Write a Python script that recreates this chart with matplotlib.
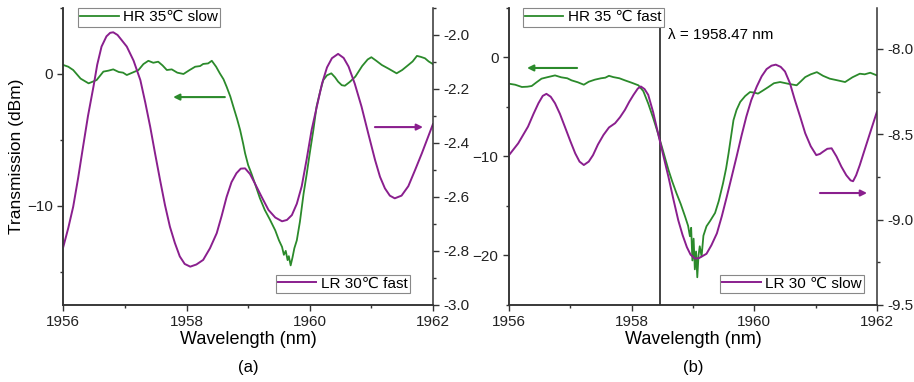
"""
Two-panel transmission spectra: HR / LR fibre gratings, slow vs fast light.
"""

import matplotlib
matplotlib.use('Agg')
import matplotlib.pyplot as plt
from matplotlib.ticker import MultipleLocator

plt.rcParams.update({
    'font.family': ['Liberation Sans', 'DejaVu Sans'],
    'font.size': 10,
    'axes.linewidth': 1.1,
    'axes.edgecolor': '#333333',
    'xtick.direction': 'out',
    'ytick.direction': 'out',
    'xtick.major.size': 4,
    'ytick.major.size': 4,
    'xtick.minor.size': 2.5,
    'ytick.minor.size': 2.5,
    'xtick.color': '#333333',
    'ytick.color': '#333333',
    'xtick.labelcolor': '#222222',
    'ytick.labelcolor': '#222222',
})

GREEN = '#2b8a2b'
PURPLE = '#8a1f8e'

# ---- panel (a): HR 35C slow (left axis, dBm) ----
hr_slow_wl = [
    1956.00, 1956.08, 1956.16, 1956.28, 1956.41, 1956.54, 1956.65, 1956.73, 1956.81, 1956.90,
    1956.97, 1957.03, 1957.12, 1957.22, 1957.30, 1957.38, 1957.46, 1957.54, 1957.61, 1957.68,
    1957.76, 1957.85, 1957.95, 1958.05, 1958.14, 1958.22, 1958.27, 1958.35, 1958.41, 1958.48,
    1958.54, 1958.60, 1958.65, 1958.71, 1958.76, 1958.82, 1958.87, 1958.92, 1958.95, 1959.00,
    1959.05, 1959.11, 1959.19, 1959.27, 1959.35, 1959.44, 1959.50, 1959.55, 1959.58, 1959.61,
    1959.64, 1959.66, 1959.69, 1959.72, 1959.75, 1959.79, 1959.84, 1959.90, 1959.95, 1960.00,
    1960.06, 1960.11, 1960.17, 1960.22, 1960.28, 1960.35, 1960.41, 1960.46, 1960.52, 1960.57,
    1960.65, 1960.74, 1960.85, 1960.94, 1961.00, 1961.08, 1961.17, 1961.28, 1961.41, 1961.50,
    1961.60, 1961.67, 1961.74, 1961.80, 1961.87, 1961.93, 1962.00,
]
hr_slow_db = [
    0.68, 0.55, 0.30, -0.35, -0.71, -0.46, 0.18, 0.25, 0.35, 0.15,
    0.10, -0.08, 0.10, 0.30, 0.75, 1.00, 0.85, 0.93, 0.65, 0.30,
    0.35, 0.10, 0.00, 0.30, 0.55, 0.60, 0.76, 0.80, 1.00, 0.55,
    0.05, -0.40, -0.96, -1.70, -2.48, -3.40, -4.25, -5.30, -6.00, -6.90,
    -7.50, -8.30, -9.40, -10.30, -11.00, -11.85, -12.60, -13.10, -13.70, -13.40,
    -14.10, -13.80, -14.50, -13.90, -13.20, -12.60, -11.20, -9.06, -7.60, -6.00,
    -4.20, -2.48, -1.30, -0.46, -0.10, 0.05, -0.25, -0.58, -0.85, -0.89,
    -0.60, -0.20, 0.60, 1.10, 1.27, 1.00, 0.68, 0.40, 0.05, 0.30,
    0.68, 0.95, 1.37, 1.30, 1.19, 0.95, 0.75,
]

# ---- panel (a): LR 30C fast (right axis) ----
lr_fast_wl = [
    1956.00, 1956.08, 1956.16, 1956.24, 1956.32, 1956.40, 1956.49, 1956.55, 1956.62, 1956.70,
    1956.76, 1956.81, 1956.88, 1956.95, 1957.03, 1957.14, 1957.25, 1957.33, 1957.41, 1957.49,
    1957.57, 1957.65, 1957.73, 1957.81, 1957.89, 1957.97, 1958.06, 1958.16, 1958.27, 1958.38,
    1958.49, 1958.57, 1958.65, 1958.73, 1958.81, 1958.88, 1958.95, 1959.03, 1959.11, 1959.22,
    1959.33, 1959.44, 1959.55, 1959.63, 1959.71, 1959.79, 1959.87, 1959.95, 1960.03, 1960.12,
    1960.20, 1960.28, 1960.36, 1960.46, 1960.55, 1960.63, 1960.73, 1960.84, 1960.95, 1961.06,
    1961.14, 1961.22, 1961.30, 1961.38, 1961.49, 1961.60, 1961.71, 1961.82, 1961.90, 1962.00,
]
lr_fast_val = [
    -2.784, -2.715, -2.636, -2.530, -2.414, -2.300, -2.190, -2.110, -2.043, -2.005,
    -1.992, -1.990, -2.000, -2.020, -2.043, -2.095, -2.167, -2.250, -2.340, -2.440,
    -2.537, -2.630, -2.710, -2.770, -2.820, -2.848, -2.858, -2.850, -2.833, -2.790,
    -2.734, -2.670, -2.600, -2.545, -2.512, -2.495, -2.494, -2.515, -2.550, -2.600,
    -2.648, -2.676, -2.690, -2.685, -2.667, -2.625, -2.560, -2.460, -2.352, -2.260,
    -2.179, -2.120, -2.086, -2.070, -2.085, -2.117, -2.180, -2.265, -2.365, -2.463,
    -2.525, -2.568, -2.595, -2.605, -2.595, -2.560, -2.500, -2.438, -2.390, -2.330,
]

# ---- panel (b): HR 35C fast (left axis, dBm) ----
hr_fast_wl = [
    1956.00, 1956.10, 1956.21, 1956.30, 1956.37, 1956.45, 1956.53, 1956.62, 1956.75, 1956.85,
    1956.95, 1957.02, 1957.12, 1957.22, 1957.30, 1957.40, 1957.50, 1957.57, 1957.63, 1957.70,
    1957.80, 1957.89, 1958.00, 1958.11, 1958.19, 1958.27, 1958.35, 1958.43, 1958.51, 1958.60,
    1958.66, 1958.73, 1958.80, 1958.87, 1958.92, 1958.95, 1958.97, 1958.99, 1959.01, 1959.03,
    1959.05, 1959.07, 1959.09, 1959.11, 1959.14, 1959.17, 1959.22, 1959.28, 1959.36, 1959.42,
    1959.49, 1959.54, 1959.58, 1959.62, 1959.66, 1959.71, 1959.77, 1959.85, 1959.93, 1960.00,
    1960.06, 1960.15, 1960.23, 1960.32, 1960.42, 1960.55, 1960.69, 1960.76, 1960.83, 1960.92,
    1961.02, 1961.12, 1961.23, 1961.35, 1961.48, 1961.60, 1961.72, 1961.80, 1961.89, 1962.00,
]
hr_fast_db = [
    -2.65, -2.75, -2.98, -2.95, -2.88, -2.50, -2.14, -2.00, -1.81, -2.00,
    -2.10, -2.31, -2.50, -2.75, -2.45, -2.24, -2.10, -2.04, -1.85, -1.98,
    -2.10, -2.31, -2.55, -2.81, -3.40, -4.65, -6.10, -7.67, -9.40, -11.36,
    -12.50, -13.70, -14.80, -16.05, -17.00, -18.06, -17.20, -20.50, -18.30, -21.40,
    -19.60, -22.20, -20.00, -19.07, -20.10, -18.00, -17.05, -16.50, -15.70, -14.50,
    -12.70, -11.20, -9.68, -8.00, -6.33, -5.30, -4.49, -3.90, -3.49, -3.55,
    -3.65, -3.30, -2.98, -2.60, -2.48, -2.65, -2.81, -2.40, -1.98, -1.70,
    -1.48, -1.85, -2.14, -2.30, -2.48, -2.00, -1.64, -1.70, -1.54, -1.81,
]

# ---- panel (b): LR 30C slow (right axis) ----
lr_slow_wl = [
    1956.00, 1956.15, 1956.31, 1956.40, 1956.48, 1956.55, 1956.61, 1956.68, 1956.75, 1956.83,
    1956.91, 1957.00, 1957.08, 1957.15, 1957.22, 1957.30, 1957.37, 1957.45, 1957.54, 1957.63,
    1957.73, 1957.81, 1957.89, 1957.96, 1958.03, 1958.10, 1958.15, 1958.21, 1958.27, 1958.35,
    1958.43, 1958.52, 1958.60, 1958.68, 1958.76, 1958.83, 1958.90, 1958.96, 1959.03, 1959.10,
    1959.22, 1959.30, 1959.39, 1959.47, 1959.55, 1959.63, 1959.71, 1959.79, 1959.87, 1959.95,
    1960.04, 1960.12, 1960.20, 1960.28, 1960.35, 1960.43, 1960.50, 1960.58, 1960.66, 1960.75,
    1960.83, 1960.92, 1961.01, 1961.07, 1961.12, 1961.19, 1961.26, 1961.34, 1961.42, 1961.50,
    1961.57, 1961.61, 1961.66, 1961.72, 1961.78, 1961.88, 1962.00,
]
lr_slow_val = [
    -8.622, -8.553, -8.455, -8.380, -8.318, -8.275, -8.263, -8.280, -8.318, -8.380,
    -8.455, -8.540, -8.612, -8.660, -8.680, -8.660, -8.622, -8.560, -8.504, -8.460,
    -8.435, -8.400, -8.357, -8.310, -8.269, -8.232, -8.220, -8.235, -8.269, -8.370,
    -8.494, -8.630, -8.750, -8.880, -9.004, -9.090, -9.161, -9.205, -9.228, -9.225,
    -9.200, -9.150, -9.080, -8.980, -8.867, -8.750, -8.632, -8.510, -8.396, -8.300,
    -8.220, -8.160, -8.118, -8.098, -8.092, -8.105, -8.132, -8.200, -8.298, -8.400,
    -8.494, -8.570, -8.622, -8.615, -8.602, -8.585, -8.582, -8.630, -8.690, -8.740,
    -8.770, -8.775, -8.740, -8.680, -8.612, -8.500, -8.367,
]

MARKED_WL = 1958.47


def style_pair(ax, ax2):
    """Shared spine/tick setup for a primary axis and its twin."""
    for a in (ax, ax2):
        a.spines['top'].set_visible(False)
        a.tick_params(which='both', width=1.0, labelsize=11)
    ax.spines['right'].set_visible(False)
    ax.set_xlim(1956, 1962)
    ax.xaxis.set_major_locator(MultipleLocator(2))
    ax.xaxis.set_minor_locator(MultipleLocator(1))
    ax.set_xlabel('Wavelength (nm)', fontsize=13, labelpad=1.5)


def add_legend(ax, handle, text, loc, anchor):
    leg = ax.legend([handle], [text], loc=loc, bbox_to_anchor=anchor,
                    fontsize=11, handlelength=2.5, handletextpad=0.3,
                    borderpad=0.15, borderaxespad=0, fancybox=False,
                    framealpha=1, edgecolor='#888888')
    leg.get_frame().set_linewidth(0.8)
    return leg


def arrow(ax, x0, x1, y, color):
    ax.annotate('', xy=(x1, y), xytext=(x0, y), xycoords='axes fraction',
                arrowprops=dict(arrowstyle='-|>', color=color, lw=1.5,
                                mutation_scale=9, shrinkA=0, shrinkB=0))


fig = plt.figure(figsize=(9.14, 3.82), dpi=100)

# panel (a)
ax_a = fig.add_axes([0.0693, 0.2016, 0.4044, 0.7775])
ax_a2 = ax_a.twinx()
style_pair(ax_a, ax_a2)
g_a, = ax_a.plot(hr_slow_wl, hr_slow_db, color=GREEN, lw=1.3)
p_a, = ax_a2.plot(lr_fast_wl, lr_fast_val, color=PURPLE, lw=1.4)
ax_a.set_ylim(-17.5, 5)
ax_a.yaxis.set_major_locator(MultipleLocator(10))
ax_a.yaxis.set_minor_locator(MultipleLocator(5))
ax_a2.set_ylim(-3.0, -1.9)
ax_a2.yaxis.set_major_locator(MultipleLocator(0.2))
ax_a2.yaxis.set_minor_locator(MultipleLocator(0.1))
ax_a2.yaxis.set_major_formatter(lambda v, p: f'{v:.1f}')
ax_a.set_ylabel('Transmission (dBm)', fontsize=12.5, labelpad=2)
leg = add_legend(ax_a2, g_a, 'HR 35\u2103 slow', 'upper left', (0.04, 1.0))
ax_a2.add_artist(leg)
add_legend(ax_a2, p_a, 'LR 30\u2103 fast', 'lower right', (0.938, 0.04))
arrow(ax_a2, 0.437, 0.297, 0.700, GREEN)
arrow(ax_a2, 0.843, 0.973, 0.599, PURPLE)

# panel (b)
ax_b = fig.add_axes([0.5569, 0.2016, 0.4026, 0.7775])
ax_b2 = ax_b.twinx()
style_pair(ax_b, ax_b2)
g_b, = ax_b.plot(hr_fast_wl, hr_fast_db, color=GREEN, lw=1.3)
p_b, = ax_b2.plot(lr_slow_wl, lr_slow_val, color=PURPLE, lw=1.4)
ax_b.set_ylim(-25, 5)
ax_b.yaxis.set_major_locator(MultipleLocator(10))
ax_b.yaxis.set_minor_locator(MultipleLocator(5))
ax_b2.set_ylim(-9.5, -7.76)
ax_b2.yaxis.set_major_locator(MultipleLocator(0.5))
ax_b2.yaxis.set_minor_locator(MultipleLocator(0.25))
ax_b2.yaxis.set_major_formatter(lambda v, p: f'{v:.1f}')
ax_b.axvline(MARKED_WL, color='#222222', lw=1.2)
ax_b.text(MARKED_WL + 0.12, 0.91, f'\u03bb = {MARKED_WL:.2f} nm',
          transform=ax_b.get_xaxis_transform(), fontsize=11, va='center')
leg = add_legend(ax_b2, g_b, 'HR 35 \u2103 fast', 'upper left', (0.038, 1.0))
ax_b2.add_artist(leg)
add_legend(ax_b2, p_b, 'LR 30 \u2103 slow', 'lower right', (0.965, 0.04))
arrow(ax_b2, 0.185, 0.049, 0.798, GREEN)
arrow(ax_b2, 0.845, 0.973, 0.377, PURPLE)

fig.text(0.2715, 0.037, '(a)', ha='center', va='center', fontsize=12)
fig.text(0.758, 0.037, '(b)', ha='center', va='center', fontsize=12)

fig.savefig('out.png', dpi=100)
plt.close(fig)
